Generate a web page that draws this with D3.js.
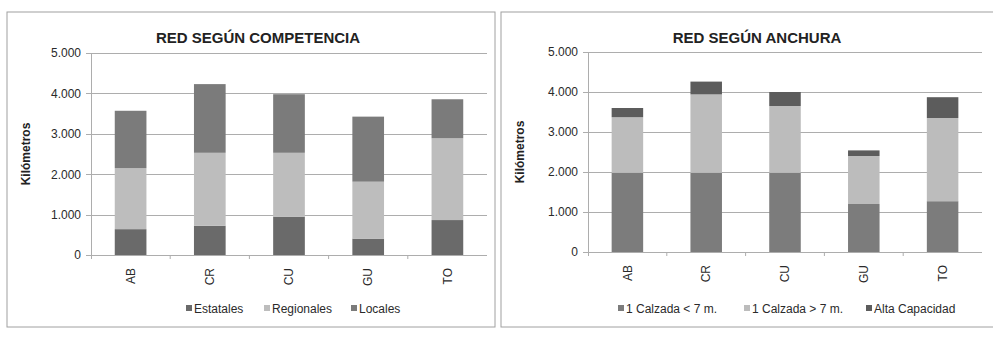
<!DOCTYPE html>
<html><head><meta charset="utf-8">
<script src="https://cdn.jsdelivr.net/npm/d3@7"></script>
<style>
body{margin:0;background:#fff;}
svg{display:block;font-family:"Liberation Sans Narrow","Arial Narrow","Liberation Sans",Arial,sans-serif;}
</style></head>
<body><svg id="c" width="993" height="337"></svg>
<script>
const categories = ["AB","CR","CU","GU","TO"];
const yTicks = [0,1000,2000,3000,4000,5000];
// Chart 1: Red según competencia
const title1 = "RED SEGÚN COMPETENCIA";
const series1Names = ["Estatales","Regionales","Locales"];
const estatales  = [640, 725, 950, 405, 865];
const regionales = [1510, 1805, 1580, 1410, 2025];
const locales    = [1420, 1700, 1450, 1610, 965];
// Chart 2: Red según anchura
const title2 = "RED SEGÚN ANCHURA";
const series2Names = ["1 Calzada < 7 m.","1 Calzada > 7 m.","Alta Capacidad"];
const calzadaMenor7 = [1980, 1980, 1980, 1200, 1270];
const calzadaMayor7 = [1390, 1960, 1670, 1200, 2080];
const altaCapacidad = [230, 320, 350, 140, 520];

const svg = d3.select("#c");
const fmt = v => d3.format(",")(v).replace(/,/g,".");

function drawChart(o){
  const g = svg.append("g");
  g.append("rect").attr("x",o.fx).attr("y",12).attr("width",o.fw).attr("height",315)
    .attr("fill","#fff").attr("stroke","#a0a0a0").attr("stroke-width",1);
  const x = d3.scaleBand().domain(categories).range([o.x0,o.x1]).paddingInner(0.6).paddingOuter(0.3);
  const y = d3.scaleLinear().domain([0,5000]).range([o.y0,o.y1]);
  g.append("g").selectAll("line").data(yTicks).join("line")
    .attr("x1",o.x0-5).attr("x2",o.x1).attr("y1",d=>Math.round(y(d))+0.5).attr("y2",d=>Math.round(y(d))+0.5)
    .attr("stroke","#adadad").attr("stroke-width",1);
  g.append("line").attr("x1",o.x0+0.5).attr("x2",o.x0+0.5).attr("y1",y(5000)).attr("y2",y(0)+4)
    .attr("stroke","#adadad");
  const ya = d3.axisLeft(y).tickValues(yTicks).tickFormat(fmt).tickSize(0).tickPadding(10);
  const yg = g.append("g").attr("transform",`translate(${o.x0},0)`).call(ya);
  yg.select(".domain").remove();
  yg.selectAll("text").attr("font-size",12).attr("fill","#2a2a2a").attr("font-family","inherit");
  const xa = d3.axisBottom(x).tickSize(0).tickPadding(0);
  const xg = g.append("g").attr("transform",`translate(0,${o.y0})`).call(xa);
  xg.select(".domain").remove();
  xg.selectAll("text").attr("font-size",12).attr("fill","#2a2a2a").attr("font-family","inherit")
    .attr("transform","rotate(-90)").attr("text-anchor","end").attr("dx","-13").attr("dy","0.35em").attr("y",0).attr("x",0);
  g.append("g").selectAll("line").data(categories.slice(1)).join("line")
    .attr("x1",d=>x(d)-x.step()*x.paddingInner()/2).attr("x2",d=>x(d)-x.step()*x.paddingInner()/2)
    .attr("y1",o.y0).attr("y2",o.y0+4).attr("stroke","#adadad");
  const rows = categories.map((c,i)=>{const r={cat:c}; o.series.forEach((s,k)=>r[k]=s[i]); return r;});
  const stack = d3.stack().keys(o.series.map((_,k)=>k))(rows);
  g.append("g").selectAll("g").data(stack).join("g").attr("fill",(d,k)=>o.colors[k])
    .selectAll("rect").data(d=>d).join("rect")
    .attr("x",d=>x(d.data.cat)).attr("width",x.bandwidth())
    .attr("y",d=>y(d[1])).attr("height",d=>y(d[0])-y(d[1]));
  g.append("text").attr("x",o.tx).attr("y",43).attr("text-anchor","middle")
    .attr("font-size",15).attr("font-weight","bold").attr("fill","#222").text(o.title);
  g.append("text").attr("transform",`translate(${o.ytx},${(y(0)+y(5000))/2}) rotate(-90)`)
    .attr("text-anchor","middle").attr("font-size",12).attr("font-weight","bold").attr("fill","#222").text("Kilómetros");
  const lg = g.append("g");
  o.names.forEach((n,k)=>{
    lg.append("rect").attr("x",o.lx[k]).attr("y",305).attr("width",6).attr("height",6).attr("fill",o.colors[k]);
    lg.append("text").attr("x",o.lx[k]+8).attr("y",313).attr("font-size",12).attr("fill","#2a2a2a").text(n);
  });
}

drawChart({fx:7,fw:488,x0:91,x1:487,y0:255,y1:53,series:[estatales,regionales,locales],
  colors:["#6a6a6a","#bdbdbd","#7b7b7b"],title:title1,tx:258,ytx:30,names:series1Names,lx:[186,264,351]});
drawChart({fx:501,fw:500,x0:588,x1:982,y0:252,y1:52,series:[calzadaMenor7,calzadaMayor7,altaCapacidad],
  colors:["#7c7c7c","#bcbcbc","#5c5c5c"],title:title2,tx:757,ytx:524,names:series2Names,lx:[618,744,866]});
</script></body></html>
